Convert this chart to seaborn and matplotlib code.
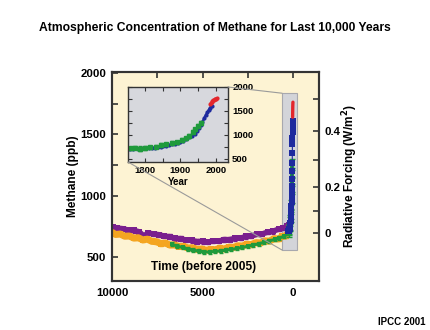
import numpy as np
import pandas as pd
import matplotlib
matplotlib.use("Agg")
import matplotlib.pyplot as plt
import seaborn as sns
from matplotlib.patches import Rectangle, ConnectionPatch

# ---------------- data ----------------
# Holocene ice-core records, time in years before 2005, CH4 in ppb
purple_t = [9950, 9700, 9400, 9100, 8800, 8500, 8250, 8000, 7700, 7400,
            7100, 6800, 6500, 6200, 5900, 5600, 5300, 5000, 4700, 4400,
            4100, 3800, 3500, 3200, 2900, 2600, 2300, 2000, 1700, 1400,
            1100, 800, 550, 350, 200]
purple_ch4 = [742, 736, 731, 720, 718, 706, 672, 696, 688, 682,
              670, 666, 652, 650, 638, 636, 626, 628, 622, 632,
              630, 642, 642, 652, 654, 668, 670, 686, 688, 704,
              710, 728, 736, 750, 760]

orange_t = [9980, 9800, 9550, 9300, 9050, 8800, 8550, 8300, 8050, 7800,
            7550, 7300, 7050, 6800, 6550, 6300, 6050, 5800, 5550, 5300,
            5050, 4800, 4550, 4300, 4050, 3800, 3550, 3300, 3050, 2800,
            2550, 2300, 2050, 1800, 1550, 1300, 1050, 800, 600, 400, 250]
orange_ch4 = [700, 684, 688, 670, 672, 655, 658, 640, 646, 628,
              626, 610, 614, 598, 600, 586, 588, 574, 576, 562,
              566, 556, 562, 560, 572, 566, 580, 578, 592, 590,
              604, 602, 618, 615, 632, 630, 650, 648, 668, 672, 700]

green_t = [6700, 6400, 6100, 5800, 5500, 5200, 4900, 4600, 4300, 4000,
           3700, 3400, 3100, 2800, 2500, 2200, 1900, 1600, 1300, 1000,
           750, 500, 300]
green_ch4 = [605, 590, 578, 566, 556, 548, 542, 540, 546, 550,
             556, 562, 570, 578, 588, 598, 608, 620, 632, 644,
             656, 668, 690]

# Recent records (calendar year, CH4 ppb)
green_year = [1760, 1772, 1785, 1800, 1815, 1830, 1845, 1860, 1875, 1890,
              1905, 1915, 1925, 1935, 1942, 1950, 1958]
green_ppb = [720, 732, 712, 722, 745, 758, 790, 808, 826, 848,
             888, 928, 985, 1055, 1115, 1185, 1255]
green_err = [35, 30, 50, 45, 30, 35, 40, 35, 40, 35,
             40, 35, 45, 40, 35, 40, 45]

blue_year = [1752, 1758, 1765, 1772, 1780, 1788, 1796, 1804, 1812, 1820,
             1828, 1836, 1844, 1852, 1860, 1868, 1876, 1884, 1892, 1900,
             1908, 1916, 1924, 1932, 1940, 1946, 1952, 1957, 1962, 1967,
             1972, 1976, 1980, 1984, 1988]
blue_ppb = [712, 716, 714, 720, 718, 722, 725, 724, 730, 734,
            738, 748, 756, 768, 780, 790, 806, 820, 838, 860,
            885, 915, 948, 985, 1030, 1080, 1140, 1200, 1270, 1350,
            1420, 1470, 1520, 1570, 1610]

red_year = [1984, 1986, 1988, 1990, 1992, 1994, 1996, 1998, 2000, 2002]
red_ppb = [1640, 1665, 1688, 1708, 1724, 1735, 1745, 1752, 1758, 1762]

purple_recent_year = [1775, 1795, 1812]
purple_recent_ppb = [722, 728, 746]

ref_year = 2005
rf_major = [0.0, 0.2, 0.4]
rf_minor = [0.1, 0.3, 0.5]

# ---------------- style ----------------
sns.set_theme(style="white")
plt.rcParams['font.family'] = ['Liberation Sans', 'DejaVu Sans']
plt.rcParams['font.weight'] = 'bold'
plt.rcParams['axes.labelweight'] = 'bold'
for k in ['text.color', 'axes.labelcolor', 'xtick.color', 'ytick.color']:
    plt.rcParams[k] = 'black'

C_PURPLE = '#7A1F8E'
C_ORANGE = '#F4A521'
C_GREEN = '#1F9A3C'
C_BLUE = '#1E2A9E'
C_RED = '#E3262B'
C_BG = '#FDF3D3'
C_INSET = '#D7D8DD'
SPINE = '#333333'

fig = plt.figure(figsize=(4.3, 3.3), dpi=100)
ax = fig.add_axes([112/430, 1-281/330, 207/430, 209/330])
ax.set_facecolor(C_BG)

ax.set_xlim(10000, -1436)
ax.set_ylim(305, 2008)

# zoom box
ax.add_patch(Rectangle((-220, 557), 820, 1278, facecolor='#D3D4D9',
                       edgecolor='#A8A8AE', lw=0.8, zorder=1.2))

def line(axx, x, y, c, lw=2.0, ms=3.0, z=2):
    sns.lineplot(x=x, y=y, ax=axx, color=c, linewidth=lw, marker='s',
                 markersize=ms, markeredgewidth=0, zorder=z, legend=False)

line(ax, purple_t, purple_ch4, C_PURPLE, lw=4.0, ms=4.5, z=2)
ax.errorbar(purple_t, purple_ch4, yerr=18, fmt='none', ecolor=C_PURPLE,
            elinewidth=1.0, capsize=1.5, zorder=2)
line(ax, orange_t, orange_ch4, C_ORANGE, lw=5.0, ms=4.5, z=2.1)
ax.errorbar(orange_t, orange_ch4, yerr=16, fmt='none', ecolor=C_ORANGE,
            elinewidth=1.0, capsize=1.5, zorder=2.1)
line(ax, green_t, green_ch4, C_GREEN, lw=2.2, ms=3.2, z=2.2)
ax.errorbar(green_t, green_ch4, yerr=14, fmt='none', ecolor=C_GREEN,
            elinewidth=0.9, capsize=1.4, zorder=2.2)

gt = [ref_year - y for y in green_year]
bt = [ref_year - y for y in blue_year]
rt = [ref_year - y for y in red_year]
pt = [ref_year - y for y in purple_recent_year]
line(ax, pt, purple_recent_ppb, C_PURPLE, lw=2.5, ms=4, z=2.3)
line(ax, gt, green_ppb, C_GREEN, lw=3.0, ms=3.5, z=2.4)
ax.errorbar(gt, green_ppb, yerr=green_err, fmt='none', ecolor=C_GREEN,
            elinewidth=1.0, capsize=2.0, zorder=2.4)
line(ax, bt, blue_ppb, C_BLUE, lw=0.8, ms=4.0, z=2.5)
sns.lineplot(x=rt, y=red_ppb, ax=ax, color=C_RED, linewidth=2.4,
             zorder=2.6, legend=False)

ax.set_xticks([10000, 5000, 0])
ax.set_xticklabels(['10000', '5000', '0'])
ax.set_xticks([7500, 2500], minor=True)
ax.set_yticks([500, 1000, 1500, 2000])
ax.set_yticks([750, 1250, 1750], minor=True)
ax.tick_params(which='both', direction='in', length=4.5, width=1.2,
               color=SPINE, top=True, right=False, labelsize=8.2, pad=4)
ax.tick_params(axis='x', which='both', pad=5)
ax.set_xlabel('')
ax.set_ylabel('Methane (ppb)', fontsize=8.6, labelpad=1)
for s in ax.spines.values():
    s.set_color(SPINE)
    s.set_linewidth(1.5)

ax.text(0.444, 0.067, 'Time (before 2005)', transform=ax.transAxes,
        ha='center', va='center', fontsize=8.6, fontweight='bold')

# radiative forcing axis (IPCC TAR CH4 forcing expression, M0=700, N0=270)
def f_overlap(M, N):
    return 0.47 * np.log(1 + 2.01e-5 * (M * N) ** 0.75 +
                         5.31e-15 * M * (M * N) ** 1.52)

M0, N0 = 700.0, 270.0
grid = np.linspace(400, 2100, 3000)
rf_grid = 0.036 * (np.sqrt(grid) - np.sqrt(M0)) - (f_overlap(grid, N0) - f_overlap(M0, N0))

ax2 = ax.twinx()
ax2.set_ylim(ax.get_ylim())
ax2.set_yticks(np.interp(rf_major, rf_grid, grid))
ax2.set_yticklabels(['0', '0.2', '0.4'])
ax2.set_yticks(np.interp(rf_minor, rf_grid, grid), minor=True)
ax2.tick_params(which='both', direction='in', length=4.5, width=1.2,
                color=SPINE, labelsize=8.2, pad=4)
ax2.set_ylabel('Radiative Forcing (W/m$^2$)', fontsize=8.6, labelpad=0)
for s in ax2.spines.values():
    s.set_color(SPINE)
    s.set_linewidth(1.5)

# inset
axi = fig.add_axes([128/430, 1-162/330, 100/430, 75/330])
axi.set_facecolor(C_INSET)
axi.set_xlim(1752, 2034)
axi.set_ylim(437, 2000)
sns.lineplot(x=blue_year, y=blue_ppb, ax=axi, color=C_BLUE, linewidth=1.8,
             marker='o', markersize=3.0, markeredgewidth=0, legend=False, zorder=2)
sns.scatterplot(x=purple_recent_year, y=purple_recent_ppb, ax=axi,
                color='#B0339A', s=8, linewidth=0, legend=False, zorder=2.2)
axi.errorbar(green_year, green_ppb, yerr=green_err, fmt='s', color=C_GREEN,
             markersize=2.6, elinewidth=0.9, capsize=1.5, zorder=2.3)
sns.scatterplot(x=red_year, y=red_ppb, ax=axi, color=C_RED, s=9,
                linewidth=0, legend=False, zorder=2.4)
axi.set_xticks([1800, 1900, 2000])
axi.set_xticks([1850, 1950], minor=True)
axi.set_yticks([500, 1000, 1500, 2000])
axi.set_yticks([750, 1250, 1750], minor=True)
axi.tick_params(which='both', direction='in', length=3, width=0.8,
                color=SPINE, left=True, right=True, top=True, bottom=True,
                labelleft=False, labelright=True, labelsize=6.8, pad=3)
axi.set_xlabel('Year', fontsize=7, labelpad=1)
axi.set_ylabel('')
for s in axi.spines.values():
    s.set_color(SPINE)
    s.set_linewidth(1.0)

# connecting lines
for a_pt, b_pt in [((1, 1), (600, 1835)), ((0, 0), (600, 557))]:
    con = ConnectionPatch(xyA=a_pt, coordsA=axi.transAxes, xyB=b_pt,
                          coordsB=ax.transData, color='#9A9A9A', lw=0.8)
    fig.add_artist(con)

fig.text(0.499, 1-28/330, 'Atmospheric Concentration of Methane for Last 10,000 Years',
         ha='center', va='center', fontsize=8.7, fontweight='bold')
fig.text(402/430, 1-322/330, 'IPCC 2001', ha='center', va='center',
         fontsize=7.0, fontweight='bold')

fig.savefig('out.png', dpi=100)
